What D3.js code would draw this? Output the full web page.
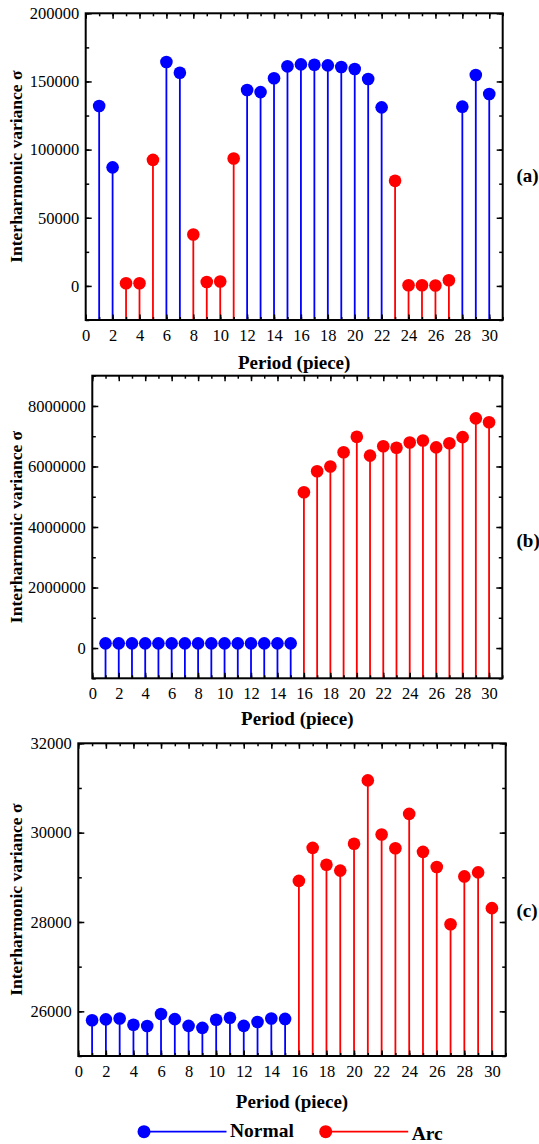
<!DOCTYPE html>
<html>
<head>
<meta charset="utf-8">
<script src="https://cdn.jsdelivr.net/npm/d3@7"></script>
<style>
  body { margin: 0; background: #fff; }
  svg { display: block; }
  svg text { font-family: "Liberation Serif", "Times New Roman", Times, "DejaVu Serif", serif; fill: #000; }
  .bold { font-weight: bold; font-size: 19px; }
</style>
</head>
<body>
<svg id="chart" width="539" height="1144"></svg>
<script>
// period number (x), one value per period for each panel
var periods = [1,2,3,4,5,6,7,8,9,10,11,12,13,14,15,16,17,18,19,20,21,22,23,24,25,26,27,28,29,30];

// panel (a)
var aVals = [132000, 87000, 2000, 2000, 92500, 164300, 156400, 37700, 2900, 3200,
             93500, 143700, 142200, 152300, 161100, 162500, 162300, 161800, 160600, 159100,
             151800, 131000, 77100, 500, 500, 300, 4200, 131500, 154700, 140800];
var aType = ["Normal","Normal","Arc","Arc","Arc","Normal","Normal","Arc","Arc","Arc",
             "Arc","Normal","Normal","Normal","Normal","Normal","Normal","Normal","Normal","Normal",
             "Normal","Normal","Arc","Arc","Arc","Arc","Arc","Normal","Normal","Normal"];

// panel (b)
var bVals = [155000, 155000, 155000, 155000, 155000, 155000, 155000, 155000, 155000, 155000,
             155000, 155000, 155000, 155000, 155000, 5150000, 5840000, 6000000, 6470000, 6980000,
             6360000, 6670000, 6620000, 6790000, 6860000, 6630000, 6770000, 6970000, 7590000, 7460000];

// panel (c)
var cVals = [25800, 25820, 25840, 25700, 25670, 25940, 25825, 25675, 25630, 25810,
             25855, 25675, 25760, 25840, 25830, 28920, 29660, 29280, 29150, 29750,
             31170, 29960, 29650, 30420, 29570, 29230, 27950, 29020, 29110, 28310];
var bcType = periods.map(function(p) { return p <= 15 ? "Normal" : "Arc"; });

var aYTicks = [0, 50000, 100000, 150000, 200000];
var bYTicks = [0, 2000000, 4000000, 6000000, 8000000];
var cYTicks = [26000, 28000, 30000, 32000];
var xTicks = d3.range(0, 31, 2);

var legendNames = ["Normal", "Arc"];
var color = { Normal: "#0000ff", Arc: "#ff0000" };
var serif = "'Liberation Serif', 'Times New Roman', Times, 'DejaVu Serif', serif";

var svg = d3.select("#chart");

var panels = [
  { vals: aVals, types: aType, yDom: [-25000, 200000], major: aYTicks, minorStep: 25000,
    left: 85.7, right: 502.7, top: 13.3, bottom: 320, label: "(a)", labelY: 181.5, titleY: 369 },
  { vals: bVals, types: bcType, yDom: [-1000000, 9000000], major: bYTicks, minorStep: 1000000,
    left: 92.3, right: 502.3, top: 375.7, bottom: 678.3, label: "(b)", labelY: 546.6, titleY: 725 },
  { vals: cVals, types: bcType, yDom: [25000, 32000], major: cYTicks, minorStep: 1000,
    left: 78.3, right: 505.7, top: 743.3, bottom: 1056, label: "(c)", labelY: 916.6, titleY: 1107.5 }
];

function styleAxis(g) {
  g.attr("font-family", serif).attr("font-size", 16.5);
  g.select(".domain").remove();
  g.selectAll(".tick line").attr("stroke", "#000").attr("stroke-width", 1.5);
}

panels.forEach(function(p) {
  var x = d3.scaleLinear().domain([0, 31]).range([p.left, p.right]);
  var y = d3.scaleLinear().domain(p.yDom).range([p.bottom, p.top]);
  var minor = d3.range(p.yDom[0], p.yDom[1] + 1, p.minorStep);
  var xMinor = d3.range(0, 32, 1);
  var g = svg.append("g");

  // stems and dots
  var pts = periods.map(function(d, i) { return { x: d, v: p.vals[i], t: p.types[i] }; });
  g.selectAll("line.stem").data(pts).enter().append("line")
    .attr("class", "stem")
    .attr("x1", function(d) { return x(d.x); })
    .attr("x2", function(d) { return x(d.x); })
    .attr("y1", y(p.yDom[0]))
    .attr("y2", function(d) { return y(d.v); })
    .attr("stroke", function(d) { return color[d.t]; })
    .attr("stroke-width", 1.8);
  g.selectAll("circle").data(pts).enter().append("circle")
    .attr("cx", function(d) { return x(d.x); })
    .attr("cy", function(d) { return y(d.v); })
    .attr("r", 6.3)
    .attr("fill", function(d) { return color[d.t]; });

  // ticks, all pointing inward
  g.append("g").attr("transform", "translate(" + p.left + ",0)")
    .call(d3.axisLeft(y).tickValues(minor).tickSize(-3.5).tickFormat("")).call(styleAxis);
  g.append("g").attr("transform", "translate(" + p.left + ",0)")
    .call(d3.axisLeft(y).tickValues(p.major).tickSize(-6).tickPadding(6.5).tickFormat(d3.format("d")))
    .call(styleAxis);
  g.append("g").attr("transform", "translate(" + p.right + ",0)")
    .call(d3.axisRight(y).tickValues(minor).tickSize(-3.5).tickFormat("")).call(styleAxis);
  g.append("g").attr("transform", "translate(" + p.right + ",0)")
    .call(d3.axisRight(y).tickValues(p.major).tickSize(-6).tickFormat("")).call(styleAxis);
  g.append("g").attr("transform", "translate(0," + p.top + ")")
    .call(d3.axisTop(x).tickValues(xMinor).tickSize(-3).tickFormat("")).call(styleAxis);
  g.append("g").attr("transform", "translate(0," + p.top + ")")
    .call(d3.axisTop(x).tickValues(xTicks).tickSize(-5.5).tickFormat("")).call(styleAxis);
  g.append("g").attr("transform", "translate(0," + p.bottom + ")")
    .call(d3.axisBottom(x).tickValues(xMinor).tickSize(-3).tickFormat("")).call(styleAxis);
  g.append("g").attr("transform", "translate(0," + p.bottom + ")")
    .call(d3.axisBottom(x).tickValues(xTicks).tickSize(-5.5).tickPadding(9).tickFormat(d3.format("d")))
    .call(styleAxis);

  // frame
  g.append("rect")
    .attr("x", p.left).attr("y", p.top)
    .attr("width", p.right - p.left).attr("height", p.bottom - p.top)
    .attr("fill", "none").attr("stroke", "#000").attr("stroke-width", 2);

  // titles
  g.append("text").attr("class", "bold")
    .attr("transform", "translate(22," + ((p.top + p.bottom) / 2) + ") rotate(-90)")
    .attr("text-anchor", "middle")
    .style("font-size", "17.5px")
    .text("Interharmonic variance σ");
  g.append("text").attr("class", "bold")
    .attr("x", (p.left + p.right) / 2).attr("y", p.titleY)
    .attr("text-anchor", "middle")
    .text("Period (piece)");
  g.append("text").attr("class", "bold")
    .attr("x", 516.5).attr("y", p.labelY)
    .text(p.label);
});

// legend at the bottom
var legX = [144, 325.7];
var leg = svg.append("g").selectAll("g").data(legendNames).enter().append("g")
  .attr("transform", function(d, i) { return "translate(" + legX[i] + ",1131.7)"; });
leg.append("line").attr("x1", 0).attr("x2", 82.5).attr("y1", 0).attr("y2", 0)
  .attr("stroke", function(d) { return color[d]; }).attr("stroke-width", 1.8);
leg.append("circle").attr("r", 6.5).attr("fill", function(d) { return color[d]; });
leg.append("text").attr("class", "bold")
  .attr("x", 86).attr("y", function(d, i) { return i ? 7.8 : 5.5; })
  .style("font-size", "19.5px")
  .text(function(d) { return d; });
</script>
</body>
</html>
